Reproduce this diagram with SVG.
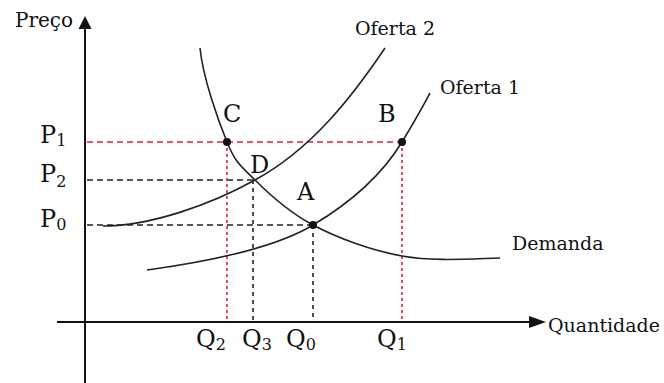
<svg xmlns="http://www.w3.org/2000/svg" width="664" height="383" viewBox="0 0 664 383">
<style>
text{font-family:"DejaVu Serif","Liberation Serif",serif;fill:#111}
.big{font-size:24px}
.lab{font-size:19px}
.sub{font-size:16px}
.curve{fill:none;stroke:#222;stroke-width:1.6}
.rd{stroke:#e0203a;stroke-width:1.3;stroke-dasharray:6 4;fill:none}
.rv{stroke:#e0203a;stroke-width:1.6;stroke-dasharray:3 3;fill:none}
.bd{stroke:#222;stroke-width:1.4;stroke-dasharray:6 4;fill:none}
.bv{stroke:#222;stroke-width:1.6;stroke-dasharray:4 4;fill:none}
.axis{stroke:#111;stroke-width:2;fill:none}
.dot{fill:#111}
</style>
<rect width="664" height="383" fill="#fff"/>
<g id="axes">
<line class="axis" x1="85" y1="27" x2="85" y2="383"/>
<polygon points="85,16 78.5,29 91.5,29" fill="#111"/>
<line class="axis" x1="57" y1="322" x2="530" y2="322"/>
<polygon points="546,322 529,316 529,328" fill="#111"/>
<text x="15" y="27" style="font-size:20px">Preço</text>
<text x="548" y="332" class="lab">Quantidade</text>
</g>
<g id="guides">
<line class="rd" x1="87" y1="142" x2="402" y2="142"/>
<line class="bd" x1="87" y1="180" x2="255" y2="180"/>
<line class="bd" x1="87" y1="225" x2="313" y2="225"/>
<line class="rv" x1="227" y1="142" x2="227" y2="320"/>
<line class="bv" x1="253" y1="180" x2="253" y2="320"/>
<line class="bv" x1="313" y1="225" x2="313" y2="320"/>
<line class="rv" x1="402" y1="142" x2="402" y2="320"/>
</g>
<g id="demanda">
<path class="curve" d="M200,48 C203,78 218,120 227,142 C236,164 241,166 255,180 C269,194 288.5,212 313,225 C337.5,238 371,250.5 402,256 C433,261.5 467,259 500,258"/>
<text x="512" y="250" class="lab">Demanda</text>
</g>
<g id="oferta2">
<path class="curve" d="M103,226 C150,226 210,205 255,180 C310,150 350,100 385,48"/>
<text x="355" y="35" class="lab">Oferta 2</text>
</g>
<g id="oferta1">
<path class="curve" d="M147,270 C220,260 280,245 313,225 C355,200 385,170 402,142 S422,108 430,93"/>
<text x="440" y="94" class="lab">Oferta 1</text>
</g>
<g id="pontos">
<circle class="dot" cx="227" cy="142" r="4"/>
<circle class="dot" cx="313" cy="225" r="4"/>
<circle class="dot" cx="402" cy="142" r="4"/>
<text x="223" y="122" class="big">C</text>
<text x="250" y="173" class="big">D</text>
<text x="297" y="200" class="big">A</text>
<text x="378" y="122" class="big">B</text>
</g>
<g id="rotulos">
<text x="40" y="143" class="big">P<tspan class="sub" dy="3">1</tspan></text>
<text x="40" y="182" class="big">P<tspan class="sub" dy="5">2</tspan></text>
<text x="40" y="227" class="big">P<tspan class="sub" dy="3">0</tspan></text>
<text x="196" y="347" class="big">Q<tspan class="sub" dy="3">2</tspan></text>
<text x="242" y="347" class="big">Q<tspan class="sub" dy="3">3</tspan></text>
<text x="286" y="347" class="big">Q<tspan class="sub" dy="3">0</tspan></text>
<text x="377" y="347" class="big">Q<tspan class="sub" dy="3">1</tspan></text>
</g>
</svg>
